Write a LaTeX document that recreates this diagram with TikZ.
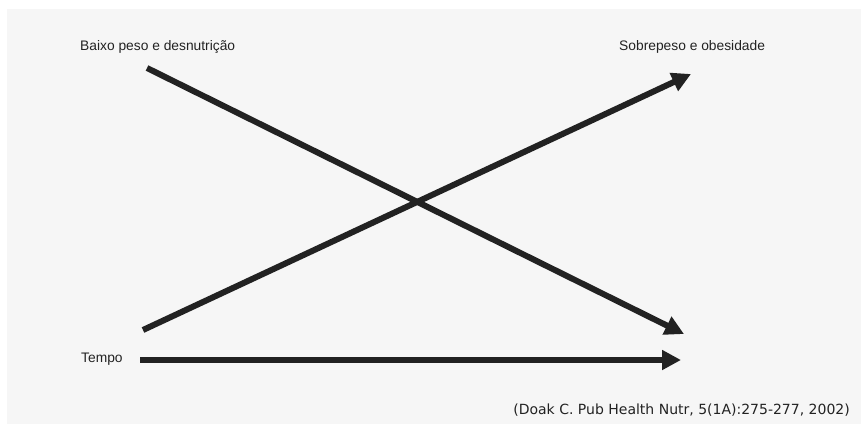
\documentclass[tikz,border=0pt]{standalone}
\usepackage{fontspec}
\setmainfont{Liberation Sans}
\newfontfamily\citefont{DejaVu Sans}
\usetikzlibrary{arrows.meta}
\definecolor{bg}{HTML}{F6F6F6}
\definecolor{ink}{HTML}{222222}
\begin{document}
\begin{tikzpicture}[x=1pt,y=-1pt,
  trend/.style={draw=ink, line width=6pt, -{Triangle[length=19pt,width=19pt]}},
  lbl/.style={inner sep=0pt, anchor=base west, text=ink, font=\fontsize{13.8}{16}\selectfont},
  cite/.style={inner sep=0pt, anchor=base east, text=ink, font=\citefont\fontsize{14}{16}\selectfont}]
\useasboundingbox (0,0) rectangle (861,424);
\fill[white] (0,0) rectangle (861,424);
\fill[bg] (7,9) rectangle (861,424);

\node[lbl] (low) at (80,50) {Baixo peso e desnutrição};
\node[lbl] (high) at (619,50) {Sobrepeso e obesidade};
\node[lbl] (time) at (81,362) {Tempo};
\node[cite] (src) at (850,414) {(Doak C. Pub Health Nutr, 5(1A):275-277, 2002)};

\coordinate (d1) at (147,68);
\coordinate (d2) at (684,334);
\coordinate (u1) at (143,330);
\coordinate (u2) at (691,74);
\coordinate (t1) at (140,360);
\coordinate (t2) at (681,360);

\draw[trend] (d1) -- (d2);
\draw[trend] (u1) -- (u2);
\draw[trend] (t1) -- (t2);
\end{tikzpicture}
\end{document}
